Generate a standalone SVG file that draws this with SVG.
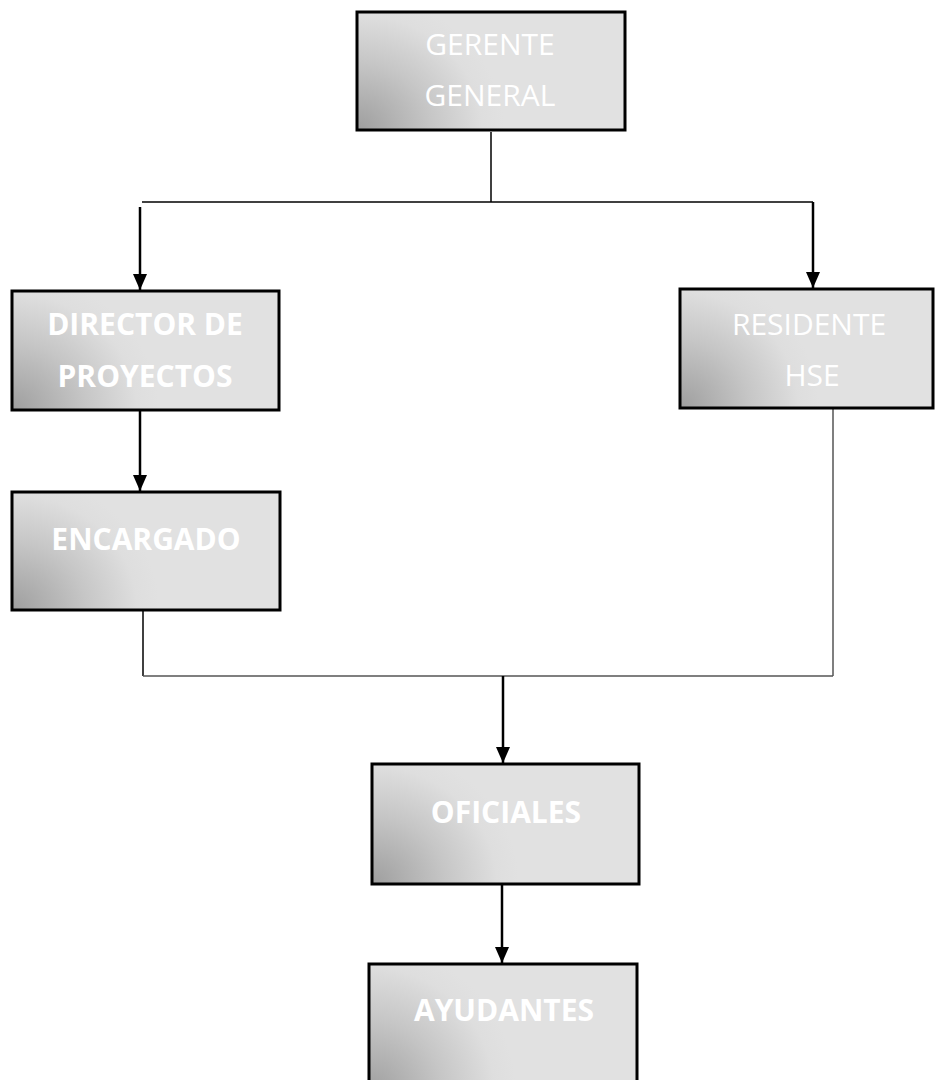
<svg xmlns="http://www.w3.org/2000/svg" width="935" height="1080" viewBox="0 0 935 1080">
<style>
.box{stroke:#000;stroke-width:3;fill:url(#g)}
.t{fill:#fff;font-family:"Open Sans","Liberation Sans",sans-serif;font-size:30px;text-anchor:middle}
.b{font-weight:bold}
.ln{stroke:#000;stroke-width:1.5;fill:none}
.gl{stroke:#555;stroke-width:1.5;fill:none}
.ar{stroke:#000;stroke-width:2.5;fill:none;marker-end:url(#ah)}
</style>
<defs>
<radialGradient id="g" cx="0" cy="0" r="1" gradientTransform="translate(0,1) scale(0.55,1.15)">
<stop offset="0" stop-color="#9e9e9e"/>
<stop offset="0.5" stop-color="#c6c6c6"/>
<stop offset="0.85" stop-color="#dedede"/>
<stop offset="1" stop-color="#e1e1e1"/>
</radialGradient>
<marker id="ah" markerWidth="16" markerHeight="14" refX="16" refY="7" orient="auto" markerUnits="userSpaceOnUse">
<path d="M0,0 L16,7 L0,14 Z" fill="#000"/>
</marker>
</defs>
<g id="connectors">
<line class="ln" x1="491" y1="132" x2="491" y2="202"/>
<line class="ln" x1="142" y1="202" x2="813" y2="202"/>
<line class="ar" x1="140" y1="207" x2="140" y2="290"/>
<line class="ar" x1="813" y1="202" x2="813" y2="288"/>
<line class="ar" x1="140" y1="408" x2="140" y2="491"/>
<line class="ln" x1="143" y1="611" x2="143" y2="676"/>
<line class="gl" x1="143" y1="676" x2="833" y2="676"/>
<line class="gl" x1="833" y1="409" x2="833" y2="676"/>
<line class="ar" x1="503" y1="676" x2="503" y2="763"/>
<line class="ar" x1="502" y1="882" x2="502" y2="963"/>
</g>
<g id="gerente">
<rect class="box" x="357" y="12" width="268" height="118"/>
<text class="t" x="490" y="55">GERENTE</text>
<text class="t" x="490" y="106">GENERAL</text>
</g>
<g id="director">
<rect class="box" x="12" y="291" width="267" height="119"/>
<text class="t b" x="145" y="335">DIRECTOR DE</text>
<text class="t b" x="145" y="387">PROYECTOS</text>
</g>
<g id="residente">
<rect class="box" x="680" y="289" width="253" height="119"/>
<text class="t" x="809" y="335">RESIDENTE</text>
<text class="t" x="812" y="386">HSE</text>
</g>
<g id="encargado">
<rect class="box" x="12" y="492" width="268" height="118"/>
<text class="t b" x="146" y="550">ENCARGADO</text>
</g>
<g id="oficiales">
<rect class="box" x="372" y="764" width="267" height="120"/>
<text class="t b" x="506" y="823">OFICIALES</text>
</g>
<g id="ayudantes">
<rect class="box" x="369" y="964" width="268" height="130"/>
<text class="t b" x="504" y="1021">AYUDANTES</text>
</g>
</svg>
